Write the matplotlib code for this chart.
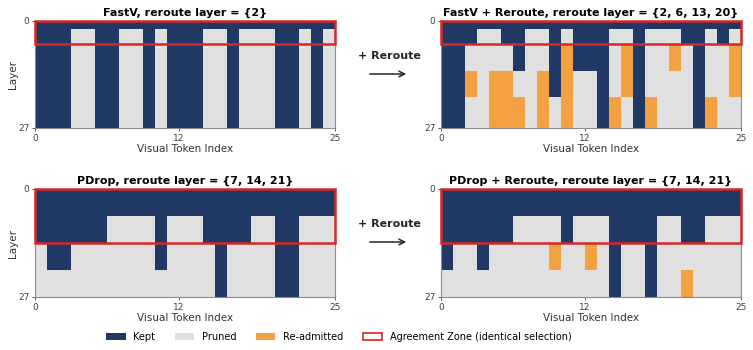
import numpy as np
import matplotlib
matplotlib.use('Agg')
import matplotlib.pyplot as plt
from matplotlib.colors import ListedColormap
from matplotlib.patches import Patch, Rectangle

N_LAYERS, N_TOKENS = 28, 25
STATE = {'K': 0, 'P': 1, 'R': 2}   # kept / pruned / re-admitted
COLORS = ['#1f3864', '#e0e0e0', '#f4a142']
BOX = '#d62728'

# each panel: layers where the selection changes + token states from there on
fastv_starts = [0, 2]
fastv_rows = ['KKKKKKKKKKKKKKKKKKKKKKKKK',
              'KKKPPKKPPKPKKKPPKPPPKKPKP']
fastv_rr_starts = [0, 2, 6, 13, 20]
fastv_rr_rows = ['KKKKKKKKKKKKKKKKKKKKKKKKK',
                 'KKKPPKKPPKPKKKPPKPPPKKPKP',
                 'KKPPPPKPPKRKKKPRKPPRPKPPR',
                 'KKRPRRPPRKRPPKPRKPPPPKPPR',
                 'KKPPRRRPRPRPPKRPKRPPPKRPP']
pdrop_starts = [0, 7, 14, 21]
pdrop_rows = ['KKKKKKKKKKKKKKKKKKKKKKKKK',
              'KKKKKKPPPPKPPPKKKKPPKKPPP',
              'PKKPPPPPPPKPPPPKPPPPKKPPP',
              'PPPPPPPPPPPPPPPKPPPPKKPPP']
pdrop_rr_starts = [0, 7, 14, 21]
pdrop_rr_rows = ['KKKKKKKKKKKKKKKKKKKKKKKKK',
                 'KKKKKKPPPPKPPPKKKKPPKKPPP',
                 'KPPKPPPPPRPPRPKPPKPPPPPPP',
                 'PPPPPPPPPPPPPPKPPKPPRPPPP']

titles = ['FastV, reroute layer = {2}',
          'FastV + Reroute, reroute layer = {2, 6, 13, 20}',
          'PDrop, reroute layer = {7, 14, 21}',
          'PDrop + Reroute, reroute layer = {7, 14, 21}']
agree_until = [6, 6, 14, 14]   # first layer where the two methods differ


def build(starts, rows):
    m = np.zeros((N_LAYERS, N_TOKENS), dtype=int)
    ends = starts[1:] + [N_LAYERS]
    for s, e, r in zip(starts, ends, rows):
        m[s:e] = [STATE[c] for c in r]
    return m


mats = [build(fastv_starts, fastv_rows), build(fastv_rr_starts, fastv_rr_rows),
        build(pdrop_starts, pdrop_rows), build(pdrop_rr_starts, pdrop_rr_rows)]

W, H = 753, 350
fig = plt.figure(figsize=(W / 100, H / 100), dpi=100)
# pixel boxes (left, top, right, bottom)
boxes = [(35, 21, 335, 128), (441, 21, 741, 128),
         (35, 189, 335, 297), (441, 189, 741, 297)]
cmap = ListedColormap(COLORS)
row_h = (N_LAYERS - 1) / N_LAYERS

for i, (m, (l, t, r, b)) in enumerate(zip(mats, boxes)):
    ax = fig.add_axes([l / W, 1 - b / H, (r - l) / W, (b - t) / H])
    ax.imshow(m, cmap=cmap, vmin=0, vmax=2, aspect='auto',
              interpolation='nearest', extent=[0, N_TOKENS, N_LAYERS - 1, 0])
    ax.add_patch(Rectangle((0, 0), N_TOKENS, agree_until[i] * row_h,
                           fill=False, edgecolor=BOX, lw=1.8, clip_on=False,
                           zorder=5))
    ax.set_xticks([0, 12, 25])
    ax.set_yticks([0, 27])
    ax.tick_params(labelsize=6.5, length=2.5, width=0.6, pad=1.5,
                   colors='0.25')
    for sp in ax.spines.values():
        sp.set_color('0.55')
        sp.set_linewidth(0.8)
    ax.set_xlabel('Visual Token Index', fontsize=7.5, labelpad=1, color='0.2')
    if i % 2 == 0:
        ax.set_ylabel('Layer', fontsize=7.5, labelpad=0, color='0.2')
    ax.set_title(titles[i], fontsize=8, fontweight='bold', pad=4)

for ty, ay in [(55.7, 74), (223.7, 242)]:
    fig.text(389 / W, 1 - ty / H, '+ Reroute', ha='center', va='center',
             fontsize=8, fontweight='bold', color='0.15')
    fig.add_artist(matplotlib.patches.FancyArrowPatch(
        (367 / W, 1 - ay / H), (409 / W, 1 - ay / H),
        transform=fig.transFigure, arrowstyle='->', mutation_scale=10,
        lw=1.1, color='0.15'))

handles = [Patch(facecolor=COLORS[0], label='Kept'),
           Patch(facecolor=COLORS[1], label='Pruned'),
           Patch(facecolor=COLORS[2], label='Re-admitted'),
           Patch(facecolor='white', edgecolor=BOX, lw=1.2,
                 label='Agreement Zone (identical selection)')]
fig.legend(handles=handles, loc='center', bbox_to_anchor=(339 / W, 1 - 337 / H),
           ncol=4, frameon=False, fontsize=7, handlelength=2.0,
           columnspacing=2.0, handletextpad=0.8)

fig.savefig('out.png', dpi=100)
